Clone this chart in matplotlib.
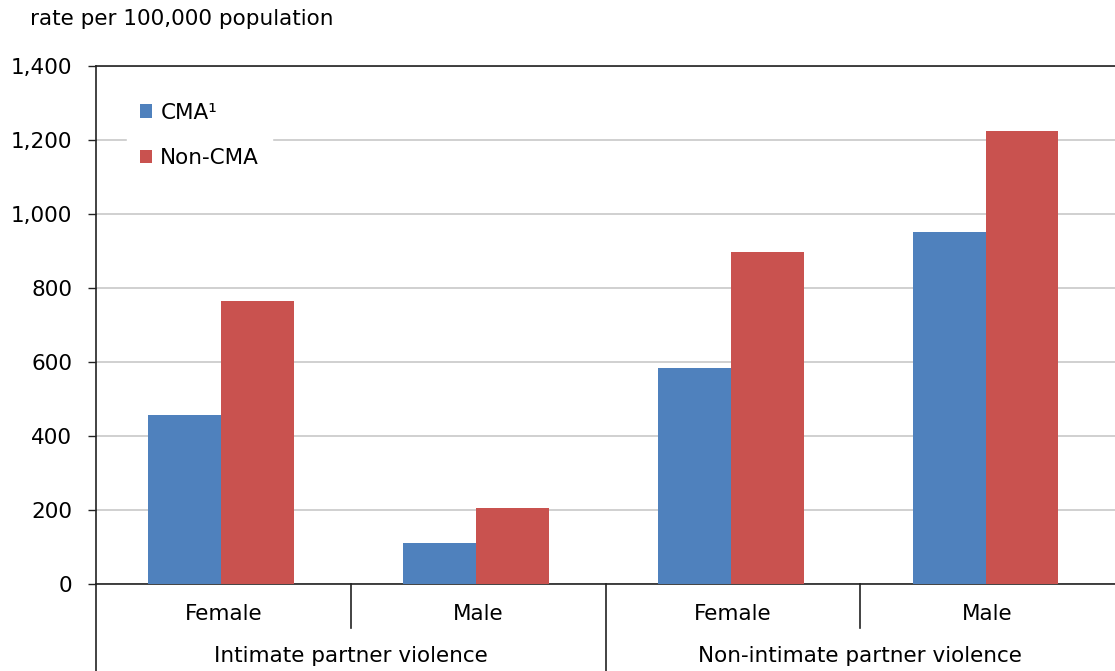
import matplotlib
matplotlib.use("Agg")
import matplotlib.pyplot as plt
import numpy as np
from matplotlib.lines import Line2D

# data
subgroups = ["Female", "Male", "Female", "Male"]
groups = ["Intimate partner violence", "Non-intimate partner violence"]
cma = [457, 110, 585, 952]
non_cma = [766, 205, 896, 1223]
series_names = ["CMA\u00b9", "Non-CMA"]
yticks = [0, 200, 400, 600, 800, 1000, 1200, 1400]

blue = "#4F81BD"
red = "#C9524F"

plt.rcParams['font.family'] = 'sans-serif'
plt.rcParams['font.sans-serif'] = ['DejaVu Sans']
fs = 15.5
fig = plt.figure(figsize=(11.15, 6.71), dpi=100)
ax = fig.add_axes([0.0861, 0.1297, 0.9139, 0.7720])

x = np.arange(len(subgroups))
w = 0.286
ax.bar(x - w/2 - 0.008, cma, w, color=blue, label=series_names[0], zorder=3)
ax.bar(x + w/2 - 0.008, non_cma, w, color=red, label=series_names[1], zorder=3)

ax.set_xlim(-0.5, 3.5)
ax.set_ylim(0, 1400)
ax.set_yticks(yticks)
ax.set_yticklabels([f"{v:,}" for v in yticks], fontsize=fs)
ax.yaxis.grid(True, color="#c8c8c8", linewidth=1.2, zorder=0)
ax.set_xticks([])
ax.tick_params(axis="y", length=6, width=1, pad=11, color="#222222")

ax.spines["right"].set_visible(False)
for s in ["left", "top", "bottom"]:
    ax.spines[s].set_color("#222222")
    ax.spines[s].set_linewidth(1.2)

fig.text(30/1115, 1 - 19/671, "rate per 100,000 population", fontsize=fs,
         ha="left", va="center")

trans = ax.get_xaxis_transform()
for i, lab in enumerate(subgroups):
    ax.text(i, -0.058, lab, fontsize=fs, ha="center", va="center", transform=trans)
for j, lab in enumerate(groups):
    ax.text(2*j + 0.5, -0.139, lab, fontsize=fs, ha="center", va="center", transform=trans)

# divider lines under the axis
ax.add_line(Line2D([0.5, 0.5], [0, -0.085], color="#222222", lw=1.2, transform=trans, clip_on=False))
ax.add_line(Line2D([2.5, 2.5], [0, -0.085], color="#222222", lw=1.2, transform=trans, clip_on=False))
ax.add_line(Line2D([1.5, 1.5], [0, -0.17], color="#222222", lw=1.2, transform=trans, clip_on=False))
ax.add_line(Line2D([-0.5, -0.5], [0, -0.17], color="#222222", lw=1.2, transform=trans, clip_on=False))

leg = ax.legend(loc="upper left", bbox_to_anchor=(0.020, 0.975), fontsize=fs, frameon=True,
                handlelength=0.56, handleheight=0.56, handletextpad=0.38, labelspacing=1.2,
                borderpad=0.6, fancybox=False)
leg.get_frame().set_edgecolor("white")
leg.get_frame().set_facecolor("white")
leg.get_frame().set_alpha(1)

fig.savefig("out.png", dpi=100)
